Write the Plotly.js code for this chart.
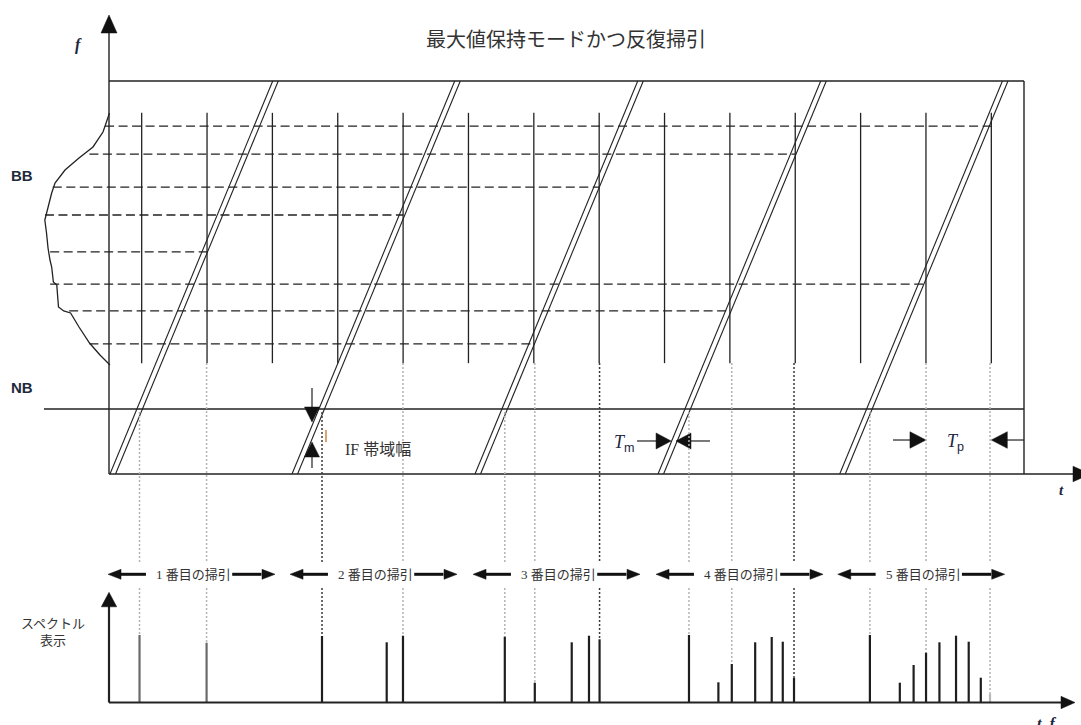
<!DOCTYPE html>
<html><head><meta charset="utf-8">
<script src="https://cdn.plot.ly/plotly-3.0.1.min.js"></script>
<style>html,body{margin:0;padding:0;background:#fff}#chart{width:1081px;height:725px}</style>
</head><body><div id="chart"></div>
<script>
// ---------------- data ----------------
// time t in pulse periods (Tp = 1), frequency f in % of the band, amplitude A in display units
const pulseTimes = [0.5, 1.5, 2.5, 3.5, 4.5, 5.5, 6.5, 7.5, 8.5, 9.5, 10.5, 11.5, 12.5, 13.5];
const pulseFLow = 28.2;
const pulseFHigh = 91.9;
const sweepStarts = [0.015, 2.8, 5.6, 8.4, 11.18];
const sweepSpan = 2.49;      // time needed to sweep the whole band
const sweepIF = 0.085;       // IF bandwidth (width of the double line)
const bandTop = 100;
const frameEnd = 14;
const nbF = 16.54;
const nbStartT = -0.995;
const levelF      = [88.5, 81.4, 73.0, 65.9, 56.5, 48.3, 41.5, 33.1];
const levelStartT = [-0.06, -0.30, -0.86, -0.98, -0.90, -0.90, -0.61, -0.30];
const levelEndT   = [13.5, 10.5, 7.5, 4.5, 1.5, 12.5, 9.5, 6.5];
const bbCurveT = [0.008, -0.035, -0.092, -0.245, -0.459, -0.673, -0.826, -0.877, -0.930, -0.982, -0.956, -0.933, -0.903, -0.877, -0.851, -0.799, -0.773, -0.693, -0.588, -0.459, -0.298, -0.138, 0.015];
const bbCurveF = [91.86, 89.57, 87.02, 83.21, 80.41, 77.35, 74.05, 71.50, 67.94, 64.63, 61.32, 57.51, 54.45, 52.67, 48.85, 48.09, 42.49, 41.48, 40.97, 37.40, 33.33, 30.28, 27.74];
const peakT = [0.467, 1.493, 3.259, 4.249, 4.498, 6.056, 6.515, 7.080, 7.344, 7.506, 8.874, 9.324, 9.529, 9.887, 10.140, 10.309, 10.481, 11.642, 12.100, 12.311, 12.501, 12.706, 12.960, 13.154, 13.339, 13.480];
const peakA = [67.5, 59.8, 66.5, 60.2, 66.8, 65.8, 19.8, 60.2, 66.8, 63.2, 67.5, 20.2, 38.5, 60.2, 65.5, 60.8, 24.8, 67.5, 19.8, 37.5, 49.8, 60.2, 66.8, 60.8, 24.8, 9.2];
const guideT    = [0.467, 1.493, 3.259, 4.498, 6.056, 6.515, 7.506, 8.874, 9.529, 10.481, 11.642, 12.501, 13.480];
const guideTopF = [15.78, 28.24, 15.78, 28.24, 15.78, 28.24, 28.24, 15.78, 28.24, 28.24, 15.78, 28.24, 28.24];
const guideEndA = [67.5, 59.8, 66.5, 66.8, 65.8, 19.8, 63.2, 67.5, 38.5, 24.8, 67.5, 49.8, 9.2];
const sweepLabels = ['1 番目の掃引', '2 番目の掃引', '3 番目の掃引', '4 番目の掃引', '5 番目の掃引'];
const titleText = '最大値保持モードかつ反復掃引';

// ---------------- geometry / styles ----------------
const W = 1081, H = 725;
const PXT = 65.357, X0PX = 109;     // px per time unit, px of t = 0
const PXF = 3.93, F0PX = 474;       // px per f unit, px of f = 0
const A0PX = 702.5;                 // px of A = 0 (1 px per unit)
const xRange = [-X0PX / PXT, (W - X0PX) / PXT];
const fRange = [-(H - F0PX) / PXF, F0PX / PXF];
const aRange = [-(H - A0PX), A0PX];
const fToA = f => (A0PX - F0PX) + PXF * f;
const INK = '#222';
const darkGuides = [2, 6, 9];

function tri(list, tipX, tipY, dir, len, hw, ypx) {
  const lx = len / PXT, ly = len / ypx, wx = hw / PXT, wy = hw / ypx;
  let pts;
  if (dir === 'right') pts = [[tipX, tipY], [tipX - lx, tipY + wy], [tipX - lx, tipY - wy]];
  if (dir === 'left')  pts = [[tipX, tipY], [tipX + lx, tipY + wy], [tipX + lx, tipY - wy]];
  if (dir === 'up')    pts = [[tipX, tipY], [tipX - wx, tipY - ly], [tipX + wx, tipY - ly]];
  if (dir === 'down')  pts = [[tipX, tipY], [tipX - wx, tipY + ly], [tipX + wx, tipY + ly]];
  pts.push(pts[0]);
  pts.forEach(p => { list.x.push(p[0]); list.y.push(p[1]); });
  list.x.push(null); list.y.push(null);
}
function seg(list, x0, y0, x1, y1) { list.x.push(x0, x1, null); list.y.push(y0, y1, null); }

// ---------- top panel ----------
const tTip = (1090 - X0PX) / PXT, fTip = (F0PX - 15) / PXF;
const frame = {x: [], y: []};
seg(frame, 0, bandTop, frameEnd, bandTop);
seg(frame, frameEnd, bandTop, frameEnd, 0);
seg(frame, 0, 0, tTip - 16 / PXT, 0);
seg(frame, 0, 0, 0, fTip - 16 / PXF);
seg(frame, nbStartT, nbF, frameEnd, nbF);

const pulses = {x: [], y: []};
pulseTimes.forEach(t => seg(pulses, t, pulseFLow, t, pulseFHigh));

const levels = {x: [], y: []};
levelF.forEach((f, i) => seg(levels, levelStartT[i], f, levelEndT[i], f));

const sweeps = {x: [], y: []};
sweepStarts.forEach(s => {
  seg(sweeps, s, 0, s + sweepSpan, bandTop);
  seg(sweeps, s + sweepIF, 0, s + sweepIF + sweepSpan, bandTop);
});

// marker shafts (IF bandwidth, Tm, Tp)
const ifT = 3.106;
const shafts = {x: [], y: []};
const headsF = {x: [], y: []};
seg(shafts, ifT, 21.88, ifT, 17.0); tri(headsF, ifT, 13.23, 'down', 15, 7.5, PXF);
seg(shafts, ifT, 1.53, ifT, 4.3);   tri(headsF, ifT, 8.14, 'up', 15, 7.5, PXF);
seg(shafts, 8.079, 8.40, 8.40, 8.40);  tri(headsF, 8.600, 8.40, 'right', 15, 8, PXF);
seg(shafts, 9.196, 8.40, 8.88, 8.40);  tri(headsF, 8.675, 8.40, 'left', 15, 8, PXF);
seg(shafts, 11.996, 8.65, 12.30, 8.65); tri(headsF, 12.5, 8.65, 'right', 16, 8.3, PXF);
seg(shafts, frameEnd, 8.65, 13.70, 8.65); tri(headsF, 13.5, 8.65, 'left', 16, 8.3, PXF);
tri(headsF, 0, fTip, 'up', 18, 8, PXF);
tri(headsF, tTip, 0, 'right', 17, 7.8, PXF);

// ---------- bottom panel ----------
const gapTopA = 139.5, gapBotA = 114.5;
const guidesLight = {x: [], y: []}, guidesDark = {x: [], y: []};
guideT.forEach((t, i) => {
  const g = darkGuides.includes(i) ? guidesDark : guidesLight;
  seg(g, t, fToA(guideTopF[i]), t, gapTopA);
  seg(g, t, gapBotA, t, guideEndA[i]);
});

const peaksMain = {x: [], y: []}, peaksGray = {x: [], y: []}, peaksLight = {x: [], y: []};
peakT.forEach((t, i) => {
  const g = i < 2 ? peaksGray : (i === peakT.length - 1 ? peaksLight : peaksMain);
  seg(g, t, 0, t, peakA[i]);
});

const specTipA = A0PX - 592.3, specTipT = (1075 - X0PX) / PXT;
const specAxes = {x: [], y: []};
seg(specAxes, 0, 0, 0, specTipA - 12);
seg(specAxes, 0, 0, specTipT - 12 / PXT, 0);
const headsA = {x: [], y: []};
tri(headsA, 0, specTipA, 'up', 14.5, 7.7, 1);
tri(headsA, specTipT, 0, 'right', 14, 6.2, 1);

const labelA = A0PX - 574.3;
const labelShafts = {x: [], y: []};
sweepStarts.forEach(s => {
  const s0 = s - 0.03;
  seg(labelShafts, s0 + 10 / PXT, labelA, s0 + 0.58, labelA);
  tri(headsA, s0, labelA, 'left', 13, 5, 1);
  seg(labelShafts, s0 + 1.90, labelA, s0 + 2.50 - 10 / PXT, labelA);
  tri(headsA, s0 + 2.555, labelA, 'right', 13, 5, 1);
});

function line(d, color, width, dash, yaxis) {
  return {type: 'scatter', mode: 'lines', x: d.x, y: d.y, yaxis: yaxis || 'y',
          line: {color: color, width: width, dash: dash || 'solid'}, hoverinfo: 'skip'};
}
function fillT(d, color, yaxis) {
  return {type: 'scatter', mode: 'lines', x: d.x, y: d.y, yaxis: yaxis || 'y', fill: 'toself',
          fillcolor: color, line: {color: color, width: 0.5}, hoverinfo: 'skip'};
}

const traces = [
  line(levels, INK, 1.3, '9px,4.5px'),
  line(pulses, INK, 1.3),
  line(sweeps, INK, 1.1),
  line({x: bbCurveT, y: bbCurveF}, INK, 1.3),
  line(frame, INK, 1.4),
  line(shafts, INK, 1.2),
  line({x: [3.32, 3.32], y: [11.2, 8.14]}, '#c8702a', 1.3),
  fillT(headsF, '#111'),
  line(guidesLight, '#b3b3b3', 1.5, '2px,2px', 'y2'),
  line(guidesDark, '#3a3a3a', 1.5, '2px,2px', 'y2'),
  line(peaksGray, '#6a6a6a', 2.2, 'solid', 'y2'),
  line(peaksLight, '#b8b8b8', 2.2, 'solid', 'y2'),
  line(peaksMain, '#1e1e1e', 2.2, 'solid', 'y2'),
  line(specAxes, INK, 2.2, 'solid', 'y2'),
  line(labelShafts, '#111', 3, 'solid', 'y2'),
  fillT(headsA, '#111', 'y2')
];

const P = (xp, yp) => ({x: xp / W, y: 1 - yp / H});
const serifCJK = 'Liberation Serif, Noto Sans CJK JP, serif';
const labelInk = '#1d2540';
function txt(xp, yp, text, size, family, color, anchor) {
  const p = P(xp, yp);
  return {xref: 'paper', yref: 'paper', x: p.x, y: p.y, text: text, showarrow: false,
          xanchor: anchor || 'center', yanchor: 'middle',
          font: {size: size, family: family, color: color}};
}
const annotations = [
  txt(79, 45, '<b><i>f</i></b>', 16, 'Liberation Serif', labelInk),
  txt(22, 176, '<b>BB</b>', 15, 'Liberation Sans', '#1e2a3a'),
  txt(22, 387, '<b>NB</b>', 15, 'Liberation Sans', '#1e2a3a'),
  txt(343, 449, 'IF 帯域幅', 16, serifCJK, '#333', 'left'),
  txt(612, 443, "<i>T</i><sub><span style='font-family:Liberation Sans'>m</span></sub>", 18, 'Liberation Serif', labelInk, 'left'),
  txt(945, 442, "<i>T</i><sub><span style='font-family:Liberation Sans'>p</span></sub>", 18, 'Liberation Serif', labelInk, 'left'),
  txt(1061, 490, '<b><i>t</i></b>', 15, 'Liberation Serif', labelInk),
  txt(19, 631, 'スペクトル<br>表示', 13, 'Noto Sans CJK JP', '#333', 'left'),
  txt(1046, 724, '<b><i>t, f</i></b>', 16, 'Liberation Serif', labelInk)
];
sweepStarts.forEach((s, i) => {
  annotations.push({xref: 'x', yref: 'y2', x: s - 0.03 + 1.31, y: labelA, text: sweepLabels[i],
    showarrow: false, xanchor: 'center', yanchor: 'middle',
    font: {size: 13, family: serifCJK, color: '#333'}});
});

const layout = {
  width: W, height: H, margin: {l: 0, r: 0, t: 0, b: 0},
  paper_bgcolor: '#fff', plot_bgcolor: '#fff', showlegend: false,
  title: {text: titleText, x: 566 / W, xanchor: 'center', y: 1 - 40 / H, yanchor: 'middle',
          font: {size: 20, family: 'Noto Sans CJK JP', color: '#333'}},
  xaxis: {range: xRange, visible: false, fixedrange: true},
  yaxis: {range: fRange, visible: false, fixedrange: true},
  yaxis2: {range: aRange, overlaying: 'y', visible: false, fixedrange: true},
  annotations: annotations,
  hovermode: false
};
Plotly.newPlot('chart', traces, layout, {staticPlot: true, displayModeBar: false});
</script></body></html>
